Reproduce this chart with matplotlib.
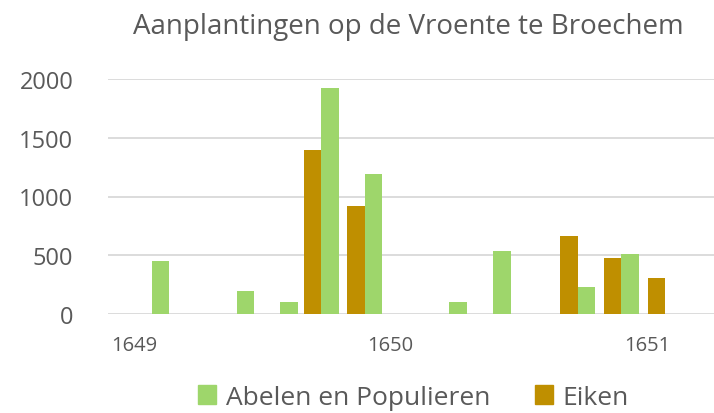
import matplotlib.pyplot as plt
from matplotlib.patches import Patch

plt.rcParams['font.family'] = ['Open Sans', 'DejaVu Sans']

# planting dates as fractional years
dates = [1649.07, 1649.40, 1649.57, 1649.73, 1649.90,
         1650.23, 1650.40, 1650.73, 1650.90, 1651.07]
abelen = [450, 200, 100, 1920, 1190, 100, 540, 230, 510, 0]
eiken = [0, 0, 0, 1400, 920, 0, 0, 660, 475, 310]
years = [1649, 1650, 1651]

green = '#9ED66B'
gold = '#BF8F00'
grey = '#595959'

fig = plt.figure(figsize=(7.14, 4.14), dpi=100)
ax = fig.add_axes([108 / 714, 99 / 414, 1 - 108 / 714, 235 / 414])

w = 0.068
ax.bar([d - w / 2 for d in dates], eiken, width=w, color=gold, zorder=3)
ax.bar([d + w / 2 for d in dates], abelen, width=w, color=green, zorder=3)

ax.set_xlim(1648.899, 1651.261)
ax.set_ylim(0, 2000)
ax.set_yticks([0, 500, 1000, 1500, 2000])
ax.set_xticks(years)
ax.set_xticklabels([str(y) for y in years])
ax.grid(axis='y', color='#D9D9D9', linewidth=1.3, zorder=0)
for s in ax.spines.values():
    s.set_visible(False)
ax.tick_params(axis='both', length=0, colors=grey)
ax.tick_params(axis='y', labelsize=17, pad=25)
ax.tick_params(axis='x', labelsize=14.5, pad=15)

fig.suptitle('Aanplantingen op de Vroente te Broechem', x=0.572, y=0.968,
             fontsize=20, color=grey)

handles = [Patch(color=green, label='Abelen en Populieren'),
           Patch(color=gold, label='Eiken')]
fig.legend(handles=handles, loc='lower center', bbox_to_anchor=(0.579, -0.05),
           ncol=2, frameon=False, fontsize=19, labelcolor=grey,
           handlelength=0.7, handleheight=0.7, handletextpad=0.35,
           columnspacing=1.7)

fig.savefig('out.png', dpi=100)
